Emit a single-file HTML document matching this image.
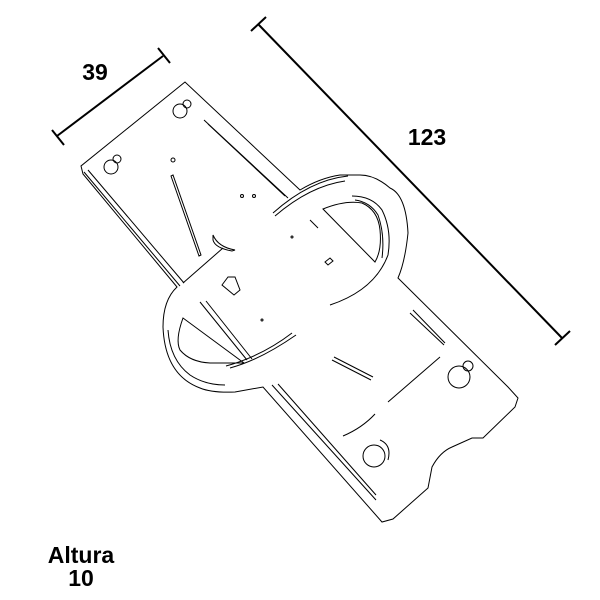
<!DOCTYPE html>
<html><head><meta charset="utf-8"><style>
html,body{margin:0;padding:0;background:#fff;}
svg{display:block;}
text{font-family:"Liberation Sans",sans-serif;font-weight:bold;font-size:23px;fill:#000;}
</style></head><body>
<svg width="600" height="600" viewBox="0 0 600 600" xmlns="http://www.w3.org/2000/svg">
<g stroke="#000" fill="none">
<line x1="57" y1="136" x2="163" y2="56" stroke-width="2"/>
<line x1="52" y1="130" x2="64" y2="145" stroke-width="2"/>
<line x1="158" y1="48" x2="170" y2="63" stroke-width="2"/>
<line x1="258" y1="24" x2="562" y2="338" stroke-width="2"/>
<line x1="251" y1="31" x2="266" y2="17" stroke-width="2"/>
<line x1="555" y1="345" x2="570" y2="331" stroke-width="2"/>
</g>
<g stroke="#000" fill="none" stroke-width="1">
<path d="M185,82 L81,166 L83,174 L177,287 Q163,300 163,327 Q165,375 200,388 Q212,393 235,392 L263,387 L382,522 L393,519 L428,488 L432,467 Q440,452 452,447 L472,438 L483,438 L515,407 L518,398 L508,387 L398,278 Q405,262 408,233 Q406,195 390,188 Q375,175 360,175 L340,175 Q320,178 300,190 Z"/>
<path d="M84,172 L180,286 M88,170 L184,283"/>
<path d="M204,120 L288,198 M208,124 L285,196"/>
<circle cx="180" cy="111" r="7"/><circle cx="187" cy="104" r="4"/>
<circle cx="111" cy="167" r="7"/><circle cx="117" cy="159" r="4"/>
<circle cx="173" cy="160" r="2"/>
<path d="M171,176 L199,256 L201,255 L173,175 Z"/>
<path d="M273,213 Q310,180 348,176 M275,216 Q310,186 345,181"/>
<path d="M352,196 Q372,196 382,210 Q392,230 388,255 Q375,290 330,305"/>
<path d="M355,200 Q370,202 378,215 Q385,235 382,258"/>
<path d="M323,209 Q345,200 362,203 Q378,210 380,230 Q382,250 375,262 Z"/>
<path d="M213,235 Q218,247 235,250 L232,251 Q215,248 213,240 Z"/>
<path d="M223,248 L183,283"/>
<path d="M228,277 L235,277 L240,290 L234,295 L222,285 Z"/>
<circle cx="242" cy="196" r="1.5"/><circle cx="254" cy="196" r="1.5"/><circle cx="292" cy="237" r="1"/>
<path d="M325,262 L330,258 L333,261 L328,265 Z"/>
<path d="M310,220 L318,228"/>
<path d="M183,318 Q175,340 180,350 Q190,362 210,363 L244,363 Z"/>
<path d="M200,302 L247,360 M206,301 L252,359"/>
<path d="M230,368 Q260,360 296,335 M226,366 Q262,356 292,333"/>
<path d="M168,330 Q170,360 190,375 Q205,385 225,385"/>
<circle cx="262" cy="320" r="1"/>
<path d="M272,385 L376,500 M278,384 L376,495"/>
<path d="M334,357 L373,377 M332,360 L371,380"/>
<path d="M410,313 L444,345 M413,310 L445,343"/>
<path d="M388,402 L440,357"/>
<path d="M343,436 Q362,428 375,414"/>
<circle cx="459" cy="377" r="11"/><circle cx="468" cy="366" r="5"/>
<circle cx="374" cy="456" r="11"/><path d="M380,440 Q392,445 388,460"/>
</g>
<text x="95" y="80" text-anchor="middle">39</text>
<text x="427" y="145" text-anchor="middle">123</text>
<text x="81" y="563" text-anchor="middle">Altura</text>
<text x="81" y="586" text-anchor="middle">10</text>
</svg>
</body></html>
